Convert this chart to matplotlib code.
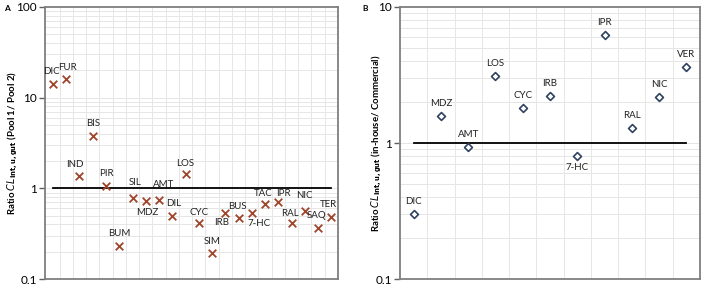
import numpy as np
import matplotlib
matplotlib.use("Agg")
from matplotlib import pyplot as plt
from matplotlib.ticker import FixedLocator, FuncFormatter, NullLocator

plt.rcParams['font.family'] = ['Lato', 'DejaVu Sans']

# panel A: Pool 1 / Pool 2
namesA = ["DIC", "FUR", "IND", "BIS", "PIR", "BUM", "SIL", "MDZ", "AMT", "DIL", "LOS",
          "CYC", "SIM", "IRB", "BUS", "7-HC", "TAC", "IPR", "RAL", "NIC", "SAQ", "TER"]
ratioA = [14.0, 16.2, 1.37, 3.77, 1.06, 0.231, 0.78, 0.72, 0.74, 0.49, 1.43,
          0.41, 0.195, 0.54, 0.475, 0.53, 0.68, 0.71, 0.41, 0.56, 0.37, 0.48]

# panel B: in-house / commercial
namesB = ["DIC", "MDZ", "AMT", "LOS", "CYC", "IRB", "7-HC", "IPR", "RAL", "NIC", "VER"]
ratioB = [0.30, 1.58, 0.93, 3.09, 1.82, 2.2, 0.80, 6.2, 1.30, 2.17, 3.62]

# label offsets in points (dx, dy)
offA = [(-1, 9), (1, 8), (-3, 8), (0, 9), (0, 9), (0, 9), (2, 11), (1, -8), (3, 11), (1, 9), (0, 8),
        (0, 8), (0, 8), (-3, -7), (-1, 8), (5, -7), (-1, 7), (4, 6), (-1, 7), (0, 11), (-1, 9), (-2, 9)]
offB = [(0, 9)] * 6 + [(0, -8)] + [(0, 9)] * 4

fig = plt.figure(figsize=(7.09, 2.91), dpi=100)
axA = fig.add_axes([0.0635, 0.041, 0.4132, 0.935])
axB = fig.add_axes([0.5642, 0.041, 0.4231, 0.935])


def style(ax, n, ylim, ticks, lo):
    ax.set_yscale('log')
    ax.set_ylim(*ylim)
    ax.set_xlim(lo, n + 0.5)
    ax.yaxis.set_major_locator(FixedLocator(ticks))
    ax.yaxis.set_major_formatter(FuncFormatter(lambda v, _: f"{v:g}"))
    ax.yaxis.set_minor_locator(FixedLocator([m * 10.0 ** e for e in range(-1, 3) for m in range(2, 10)]))
    ax.xaxis.set_major_locator(NullLocator())
    ax.xaxis.set_minor_locator(FixedLocator(np.arange(1.5, n, 1)))
    ax.grid(which='both', color='#e6e6e6', lw=0.7)
    ax.set_axisbelow(True)
    ax.tick_params(axis='y', which='major', length=4, width=1, color='#606060',
                   labelsize=8.5, direction='out', pad=2)
    ax.tick_params(axis='y', which='minor', length=0)
    ax.tick_params(axis='x', which='both', length=0)
    for s in ax.spines.values():
        s.set_color('#7f7f7f')
        s.set_linewidth(1.3)
    ax.plot([1, n], [1, 1], color='black', lw=1.3, zorder=2)


xA = np.arange(1, len(namesA) + 1)
style(axA, len(namesA), (0.1, 100), [0.1, 1, 10, 100], 0.4)
axA.scatter(xA, ratioA, marker='x', s=30, color='#a0442a', linewidths=1.3, zorder=3)
for x, y, t, o in zip(xA, ratioA, namesA, offA):
    axA.annotate(t, (x, y), xytext=o, textcoords='offset points', ha='center', va='center',
                 fontsize=7, color='#222222')
axA.set_ylabel(r"Ratio $\mathbf{\mathit{CL}}_{\mathbf{int,u,gut}}$ (Pool 1/ Pool 2)",
               fontsize=6.9, fontweight='bold')
axA.yaxis.set_label_coords(-0.087, 0.5)

xB = np.arange(1, len(namesB) + 1)
style(axB, len(namesB), (0.1, 10), [0.1, 1, 10], 0.5)
axB.scatter(xB, ratioB, marker='D', s=16, facecolor='white', edgecolor='#2e4360',
            linewidths=1.2, zorder=3)
for x, y, t, o in zip(xB, ratioB, namesB, offB):
    axB.annotate(t, (x, y), xytext=o, textcoords='offset points', ha='center', va='center',
                 fontsize=7, color='#222222')
axB.set_ylabel(r"Ratio $\mathbf{\mathit{CL}}_{\mathbf{int,u,gut}}$ (in-house/ Commercial)",
               fontsize=6.9, fontweight='bold')
axB.yaxis.set_label_coords(-0.055, 0.5)

fig.text(0.006, 0.962, "A", fontsize=6, fontweight='bold')
fig.text(0.511, 0.962, "B", fontsize=6, fontweight='bold')

fig.savefig("out.png", dpi=100)
